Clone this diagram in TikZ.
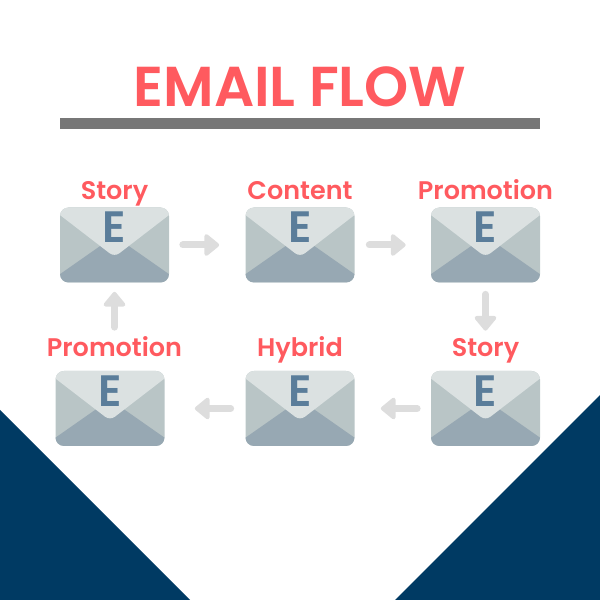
\documentclass[tikz,border=0pt]{standalone}
\usepackage{fontspec}
\usetikzlibrary{arrows.meta,positioning}
\setmainfont{Poppins}[UprightFont=* Medium,BoldFont=* SemiBold]
\definecolor{titlered}{HTML}{FF5A5F}
\definecolor{navy}{HTML}{003A63}
\definecolor{rulegray}{HTML}{777777}
\definecolor{arrowgray}{HTML}{DDDDDD}
\definecolor{flaptop}{HTML}{DBE1E1}
\definecolor{flapside}{HTML}{B9C5C6}
\definecolor{flapbottom}{HTML}{97A8B3}
\definecolor{letterblue}{HTML}{5A7D9A}

\begin{document}
\begin{tikzpicture}[>={Triangle[length=.32cm,width=.5cm,round]}, node distance=3.71cm, on grid,
  envelope/.style={fill=flapside, rounded corners=.17cm, inner sep=0pt, minimum width=2.18cm, minimum height=1.5cm,
    path picture={
      \begin{scope}[shift={(path picture bounding box.center)}, sharp corners]
      \fill[flapbottom] (-1.2,-.66) -- (0,.18) -- (1.2,-.66) -- (1.2,-1) -- (-1.2,-1) -- cycle;
      \fill[flaptop, rounded corners=.12cm] (-1.3,.76) -- (0,-.24) -- (1.3,.76) -- (1.3,1) -- (-1.3,1) -- cycle;
      \end{scope}
    },
    label={[letter]center:E}},
  letter/.style={text=letterblue, font=\fontsize{25}{25}\selectfont\bfseries, yshift=.35cm},
  caption/.style={text=titlered, font=\fontsize{14.5}{14.5}\selectfont\bfseries},
  flow/.style={->, draw=arrowgray, line width=.14cm, line cap=round}]
\useasboundingbox (0,0) rectangle (12,12);

\fill[navy] (0,0) -- (0,3.8) -- (3.8,0) -- cycle;
\fill[navy] (12,0) -- (12,4.1) -- (7.9,0) -- cycle;

\node[text=titlered, font=\fontsize{32}{32}\selectfont\bfseries, anchor=base] (title) at (6,9.86) {EMAIL FLOW};
\node[fill=rulegray, inner sep=0pt, minimum width=9.6cm, minimum height=.21cm] (bar) at (6,9.53) {};

% top row
\node[envelope] (env1) at (2.29,7.1) {};
\node[envelope, right=of env1] (env2) {};
\node[envelope, right=of env2] (env3) {};
% bottom row
\node[envelope, below=3.27cm of env3] (env6) {};
\node[envelope, left=of env6] (env5) {};
\node[envelope, left=3.8cm of env5] (env4) {};

\node[caption, above=.91cm of env1, anchor=base] (cap1) {Story};
\node[caption, above=.91cm of env2, anchor=base] (cap2) {Content};
\node[caption, above=.91cm of env3, anchor=base] (cap3) {Promotion};
\node[caption, above=1.03cm of env6, anchor=base] (cap6) {Story};
\node[caption, above=1.03cm of env5, anchor=base] (cap5) {Hybrid};
\node[caption, above=1.03cm of env4, anchor=base, xshift=.09cm] (cap4) {Promotion};

\draw[flow, shorten <=.27cm, shorten >=.52cm] (env1) -- (env2);
\draw[flow, shorten <=.29cm, shorten >=.5cm] (env2) -- (env3);
\draw[flow, shorten <=.23cm, shorten >=.8cm] (env3) -- (env6);
\draw[flow, shorten <=.27cm, shorten >=.52cm] (env6) -- (env5);
\draw[flow, shorten <=.29cm, shorten >=.6cm] (env5) -- (env4);
\draw[flow, shorten <=.87cm, shorten >=.18cm] (env4.north -| env1.south) -- (env1.south);
\end{tikzpicture}
\end{document}
